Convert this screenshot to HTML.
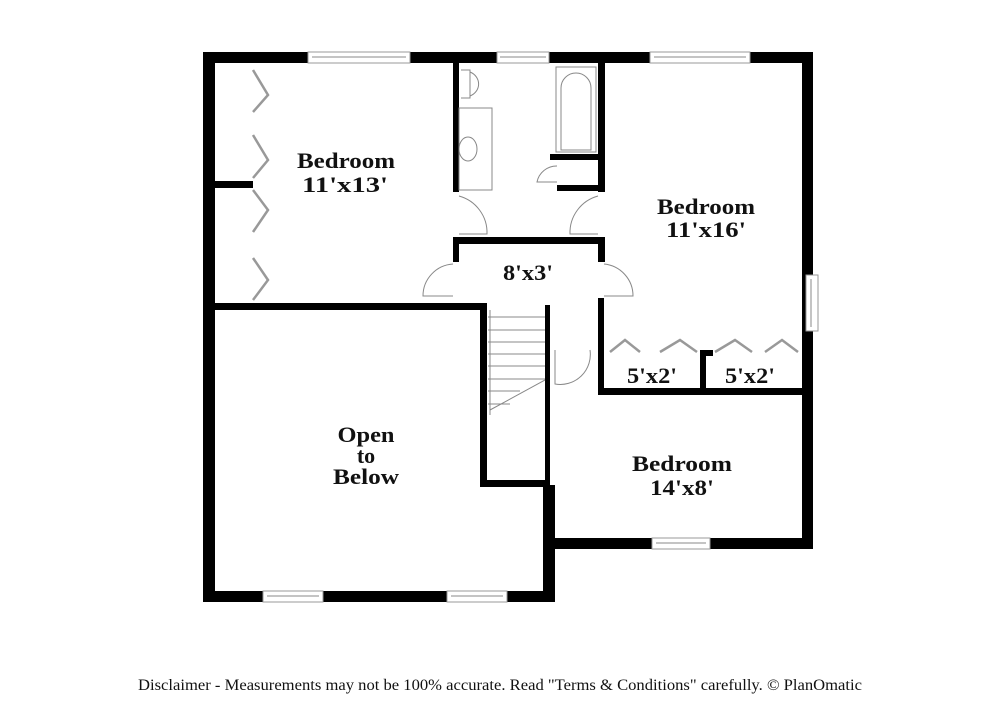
<!DOCTYPE html>
<html><head><style>
html,body{margin:0;padding:0;background:#fff;}
svg{display:block;}
.t{font-family:"Liberation Serif",serif;font-weight:bold;font-size:22px;fill:#111;text-anchor:middle;}
.d{font-family:"Liberation Serif",serif;font-size:16px;fill:#111;text-anchor:middle;}
.w{fill:#000;}
.win{fill:#fff;stroke:#999;stroke-width:1;}
.thin{fill:none;stroke:#888;stroke-width:1;}
.bf{fill:none;stroke:#999;stroke-width:2.5;}
</style></head><body>
<svg width="1000" height="727" viewBox="0 0 1000 727" xmlns="http://www.w3.org/2000/svg">
<rect class="w" x="203" y="52" width="610" height="11"/>
<rect class="w" x="203" y="52" width="12" height="550"/>
<rect class="w" x="802" y="52" width="11" height="497"/>
<rect class="w" x="543" y="538" width="270" height="11"/>
<rect class="w" x="203" y="591" width="352" height="11"/>
<rect class="w" x="543" y="485" width="12" height="117"/>
<rect class="w" x="215" y="303" width="272" height="7"/>
<rect class="w" x="215" y="181" width="38" height="7"/>
<rect class="w" x="453" y="63" width="6" height="129"/>
<rect class="w" x="453" y="237" width="152" height="7"/>
<rect class="w" x="453" y="237" width="6" height="25"/>
<rect class="w" x="598" y="63" width="7" height="129"/>
<rect class="w" x="598" y="237" width="7" height="25"/>
<rect class="w" x="598" y="298" width="6" height="97"/>
<rect class="w" x="598" y="388" width="204" height="7"/>
<rect class="w" x="700" y="350" width="6" height="45"/>
<rect class="w" x="700" y="350" width="13" height="6"/>
<rect class="w" x="550" y="154" width="50" height="6"/>
<rect class="w" x="557" y="185" width="43" height="6"/>
<rect class="w" x="480" y="305" width="7" height="182"/>
<rect class="w" x="480" y="480" width="70" height="7"/>
<rect class="w" x="545" y="305" width="5" height="182"/>
<rect class="win" x="308" y="52" width="102" height="11"/><line class="thin" x1="312" y1="57" x2="406" y2="57"/>
<rect class="win" x="497" y="52" width="52" height="11"/><line class="thin" x1="500" y1="57" x2="546" y2="57"/>
<rect class="win" x="650" y="52" width="100" height="11"/><line class="thin" x1="654" y1="57" x2="746" y2="57"/>
<rect class="win" x="806" y="275" width="12" height="56"/><line class="thin" x1="811" y1="279" x2="811" y2="327"/>
<rect class="win" x="652" y="538" width="58" height="11"/><line class="thin" x1="656" y1="543" x2="706" y2="543"/>
<rect class="win" x="263" y="591" width="60" height="11"/><line class="thin" x1="267" y1="596" x2="319" y2="596"/>
<rect class="win" x="447" y="591" width="60" height="11"/><line class="thin" x1="451" y1="596" x2="503" y2="596"/>
<path class="thin" d="M459 196 A38 38 0 0 1 487 234 L459 234"/>
<path class="thin" d="M598 196 A38 38 0 0 0 570 234 L598 234"/>
<path class="thin" d="M453 264 A32 32 0 0 0 423 296 L453 296"/>
<path class="thin" d="M604 264 A32 32 0 0 1 633 296 L604 296"/>
<path class="thin" d="M555 350 L555 384 A30 30 0 0 0 590 350"/>
<path class="thin" d="M557 166 A20 20 0 0 0 537 182 L557 182"/>
<path class="bf" d="M253 70 L268 95 L253 112 M253 135 L268 160 L253 178 M253 190 L268 210 L253 232 M253 258 L268 280 L253 300"/>
<path class="bf" d="M610 352 L625 340 L640 352 M660 352 L680 340 L697 352 M715 352 L735 340 L752 352 M765 352 L782 340 L798 352"/>
<rect class="thin" x="556" y="67" width="40" height="85"/>
<path class="thin" d="M561 150 L561 88 A15 15 0 0 1 591 88 L591 150 Z"/>
<path class="thin" d="M461 70 L470 70 L470 98 L461 98 M470 72 A14 13 0 0 1 470 96"/>
<rect class="thin" x="459" y="108" width="33" height="82"/>
<ellipse class="thin" cx="468" cy="149" rx="9" ry="12"/>
<path class="thin" d="M488 317 L545 317 M488 330 L545 330 M488 342 L545 342 M488 354 L545 354 M488 366 L545 366 M488 379 L545 379 M488 391 L520 391 M488 404 L510 404 M490 410 L545 380 M490 310 L490 415"/>
<text class="t" x="346" y="168" textLength="98" lengthAdjust="spacingAndGlyphs">Bedroom</text><text class="t" x="345" y="192" textLength="86" lengthAdjust="spacingAndGlyphs">11'x13'</text>
<text class="t" x="706" y="214" textLength="98" lengthAdjust="spacingAndGlyphs">Bedroom</text><text class="t" x="706" y="237" textLength="80" lengthAdjust="spacingAndGlyphs">11'x16'</text>
<text class="t" x="528" y="280" textLength="50" lengthAdjust="spacingAndGlyphs">8'x3'</text>
<text class="t" x="366" y="442" textLength="57" lengthAdjust="spacingAndGlyphs">Open</text><text class="t" x="366" y="463">to</text><text class="t" x="366" y="484" textLength="66" lengthAdjust="spacingAndGlyphs">Below</text>
<text class="t" x="652" y="383" textLength="50" lengthAdjust="spacingAndGlyphs">5'x2'</text><text class="t" x="750" y="383" textLength="50" lengthAdjust="spacingAndGlyphs">5'x2'</text>
<text class="t" x="682" y="471" textLength="100" lengthAdjust="spacingAndGlyphs">Bedroom</text><text class="t" x="682" y="495" textLength="64" lengthAdjust="spacingAndGlyphs">14'x8'</text>
<text class="d" x="500" y="690" textLength="724" lengthAdjust="spacingAndGlyphs">Disclaimer - Measurements may not be 100% accurate. Read "Terms &amp; Conditions" carefully. © PlanOmatic</text>
</svg>
</body></html>
